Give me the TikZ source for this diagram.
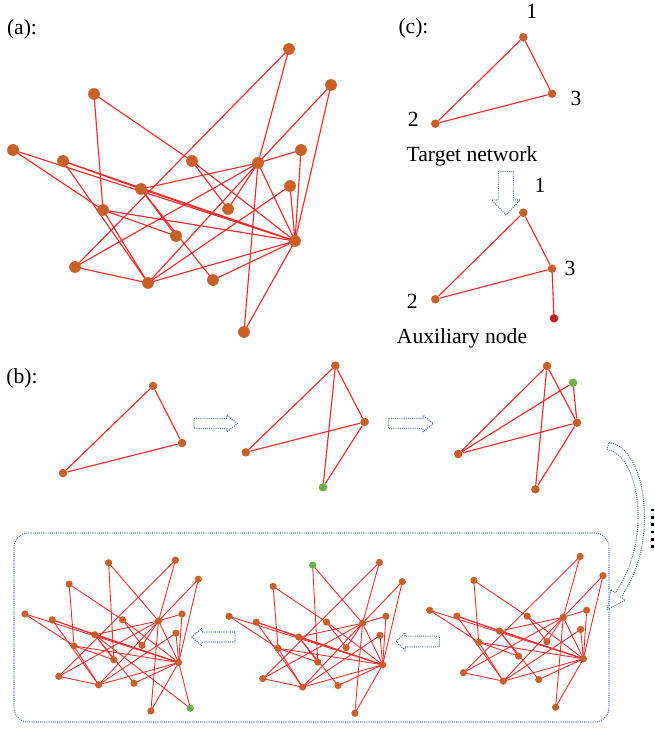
\documentclass[tikz,border=0pt]{standalone}
\usepackage{fontspec}
\setmainfont{Liberation Serif}
\usetikzlibrary{backgrounds}

\definecolor{nodeorange}{RGB}{200,96,40}
\definecolor{linkred}{RGB}{236,44,44}
\definecolor{seedgreen}{RGB}{108,178,72}
\definecolor{auxred}{RGB}{200,28,36}
\definecolor{arrowblue}{RGB}{70,120,180}

\tikzset{
  link/.style={draw=linkred, line width=0.85pt},
  bignode/.style={circle, fill=nodeorange, inner sep=0pt, minimum size=8.8pt},
  midnode/.style={circle, fill=nodeorange, inner sep=0pt, minimum size=6.4pt},
  smallnode/.style={circle, fill=nodeorange, inner sep=0pt, minimum size=5.4pt},
  newnode/.style={fill=seedgreen},
  hollow/.style={draw=arrowblue, line width=0.8pt, dash pattern=on 0.7pt off 0.9pt, line join=round},
  lab/.style={font=\fontsize{16.2}{19}\selectfont, inner sep=0pt},
}

% the 18-node network, #1 = name prefix, #2 = node style
\newcommand\NetNodes[2]{%
  \node[#2] (#1-1)  at (289,49)  {};
  \node[#2] (#1-2)  at (331,85)  {};
  \node[#2] (#1-3)  at (94,94)   {};
  \node[#2] (#1-4)  at (13,150)  {};
  \node[#2] (#1-5)  at (63,161)  {};
  \node[#2] (#1-6)  at (192,161) {};
  \node[#2] (#1-7)  at (258,163) {};
  \node[#2] (#1-8)  at (301,150) {};
  \node[#2] (#1-9)  at (290,186) {};
  \node[#2] (#1-10) at (141,189) {};
  \node[#2] (#1-11) at (228,209) {};
  \node[#2] (#1-12) at (103,210) {};
  \node[#2] (#1-13) at (176,236) {};
  \node[#2] (#1-14) at (295,241) {};
  \node[#2] (#1-15) at (75,267)  {};
  \node[#2] (#1-16) at (148,283) {};
  \node[#2] (#1-17) at (213,280) {};
  \node[#2] (#1-18) at (244,332) {};
}
\newcommand\NetLinks[1]{%
  \begin{pgfonlayer}{background}
    \foreach \u/\v in {1/7,1/15,2/7,2/14,3/6,3/12,4/12,4/14,5/10,5/14,5/16,
        6/11,6/14,7/8,7/10,7/11,7/14,7/15,7/16,7/18,8/14,9/14,9/16,10/13,
        10/14,10/17,12/13,12/14,12/16,14/16,14/17,14/18,15/16}
      \draw[link] (#1-\u.center) -- (#1-\v.center);
  \end{pgfonlayer}%
}

\begin{document}
\begin{tikzpicture}[x=0.75pt, y=-0.75pt]
\useasboundingbox (0,0) rectangle (654,730);

% ---------------- (a) ----------------
\node[lab] (la) at (22,29) {(a):};
\NetNodes{A}{bignode}
\NetLinks{A}

% ---------------- (c) ----------------
\node[lab] (lc) at (413.5,28) {(c):};
\node[midnode] (C1) at (523.3,37.3) {};
\node[midnode] (C3) at (552,93.7) {};
\node[midnode] (C2) at (435.3,123.7) {};
\draw[link] (C1) -- (C3) (C1) -- (C2) (C2) -- (C3);
\node[lab] (tc1) at (531.7,11.5) {1};
\node[lab] (tc3) at (576,98.3) {3};
\node[lab] (tc2) at (413.3,119.3) {2};
\node[lab] (tgt) at (472,156) {Target network};

\draw[hollow] (498.3,171.7) -- (513.3,171.7) -- (513.3,200) -- (520,200)
  -- (506,215) -- (491.7,200) -- (498.3,200) -- cycle;

\node[midnode] (D1) at (523.3,212.7) {};
\node[midnode] (D3) at (552,268.7) {};
\node[midnode] (D2) at (435.3,299.3) {};
\node[midnode, fill=auxred] (DX) at (554,318.3) {};
\draw[link] (D1) -- (D3) (D1) -- (D2) (D2) -- (D3) (D3) -- (DX);
\node[lab] (td1) at (540,185) {1};
\node[lab] (td3) at (570,268.3) {3};
\node[lab] (td2) at (412.3,301.7) {2};
\node[lab] (aux) at (462,338) {Auxiliary node};

% ---------------- (b) ----------------
\node[lab] (lb) at (22,378) {(b):};
\node[midnode] (P1) at (153,386) {};
\node[midnode] (P2) at (182,443) {};
\node[midnode] (P3) at (63,473) {};
\draw[link] (P1) -- (P2) (P1) -- (P3) (P2) -- (P3);

\draw[hollow] (194,418.5) -- (227,418.5) -- (227,415.2) -- (237.5,423.5)
  -- (227,431.8) -- (227,428.5) -- (194,428.5) -- cycle;

\node[midnode] (Q1) at (335.4,365.7) {};
\node[midnode] (Q2) at (364.6,422) {};
\node[midnode] (Q3) at (245.8,452.3) {};
\node[midnode, newnode] (QG) at (323,487.3) {};
\draw[link] (Q1) -- (Q2) (Q1) -- (Q3) (Q1) -- (QG) (Q2) -- (Q3) (Q2) -- (QG);

\draw[hollow] (388.7,418.5) -- (423,418.5) -- (423,415.2) -- (433.3,423.5)
  -- (423,431.8) -- (423,428.5) -- (388.7,428.5) -- cycle;

\node[midnode] (S1) at (547,366) {};
\node[midnode, newnode] (SG) at (573,382.7) {};
\node[midnode] (S2) at (577,422.7) {};
\node[midnode] (S3) at (458.3,454) {};
\node[midnode] (S4) at (535.4,489.3) {};
\draw[link] (S1) -- (S3) (S1) -- (S2) (S1) -- (S4) (S3) -- (SG) (S3) -- (S2)
  (SG) -- (S2) (S2) -- (S4);

% curved hollow arrow towards the framed sequence
\draw[hollow] (609,442.6) .. controls (648,448) and (659,546) .. (620.8,597.1)
  -- (625.2,600.4) -- (607.3,609.5) -- (610.8,589.6) -- (615.2,592.9)
  .. controls (651,544) and (642,457) .. (607,449.4) -- cycle;

% ellipsis dots
\foreach \yy in {510,517.3,524.7,532,539.3,546.7}
  \fill (651.3,\yy-1.3) rectangle (653.9,\yy+1.3);

% ---------------- framed sequence ----------------
\draw[hollow, rounded corners=11pt] (14,533) rectangle (609,722);

\begin{scope}[shift={(422.6,530.3)}, xscale=0.545, yscale=0.533,
    link/.style={draw=linkred, line width=0.65pt}]
  \NetNodes{R}{smallnode}
  \NetLinks{R}
\end{scope}

\draw[hollow] (396,641.5) -- (405,632.8) -- (405,636.2) -- (439.3,636.2)
  -- (439.3,646.8) -- (405,646.8) -- (405,650.2) -- cycle;

\begin{scope}[shift={(221.9,536.3)}, xscale=0.545, yscale=0.533,
    link/.style={draw=linkred, line width=0.65pt}]
  \NetNodes{M}{smallnode}
  \node[smallnode, newnode] (M-G) at (166.4,54) {};
  \NetLinks{M}
  \begin{pgfonlayer}{background}
    \draw[link] (M-G.center) -- (M-13.center) (M-G.center) -- (M-7.center);
  \end{pgfonlayer}
\end{scope}

\draw[hollow] (191.7,637) -- (201.7,628.5) -- (201.7,632) -- (235,632)
  -- (235,642) -- (201.7,642) -- (201.7,645.5) -- cycle;

\begin{scope}[shift={(17.9,534)}, xscale=0.545, yscale=0.533,
    link/.style={draw=linkred, line width=0.65pt}]
  \NetNodes{L}{smallnode}
  \node[smallnode] (L-G) at (166.4,54) {};
  \node[smallnode, newnode] (L-H) at (316.3,327) {};
  \NetLinks{L}
  \begin{pgfonlayer}{background}
    \draw[link] (L-G.center) -- (L-13.center) (L-G.center) -- (L-7.center)
      (L-H.center) -- (L-10.center) (L-H.center) -- (L-14.center);
  \end{pgfonlayer}
\end{scope}

\end{tikzpicture}
\end{document}
